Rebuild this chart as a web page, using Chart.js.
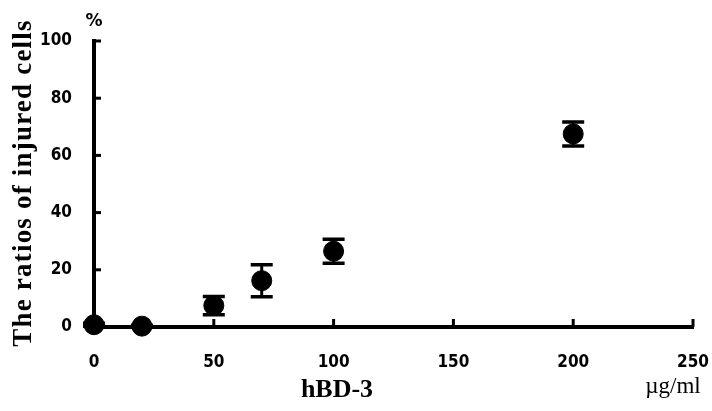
<!DOCTYPE html>
<html>
<head>
<meta charset="utf-8">
<script src="https://cdn.jsdelivr.net/npm/chart.js@4.4.0/dist/chart.umd.min.js"></script>
<style>
  html, body { margin: 0; padding: 0; background: #fff; }
  #wrap { position: relative; width: 712px; height: 411px; }
</style>
</head>
<body>
<div id="wrap"><canvas id="canvasG1" width="712" height="411"></canvas></div>
<script>
// data
var doseList = [0, 20, 50, 70, 100, 200];          // hBD-3, ug/ml
var ratioList = [0.8, 0.3, 7.5, 16.2, 26.5, 67.5]; // % injured cells
var errList = [0.5, 0.3, 3.2, 5.6, 4.2, 4.2];      // error bar (+/-)
var xTickList = [0, 50, 100, 150, 200, 250];
var yTickList = [0, 20, 40, 60, 80, 100];

var scatterData = [];
for (var i = 0; i < doseList.length; i++) {
  scatterData.push({ x: doseList[i], y: ratioList[i], e: errList[i] });
}

// error bars + inner axis ticks + free texts
var paperPlugin = {
  id: 'paper',
  beforeDatasetsDraw: function (chart) {
    var ctx = chart.ctx, xs = chart.scales.x, ys = chart.scales.y;
    ctx.save();
    ctx.strokeStyle = '#000';
    // ticks inside the axes
    ctx.lineWidth = 3;
    for (var i = 1; i < yTickList.length; i++) {
      var py = ys.getPixelForValue(yTickList[i]);
      ctx.beginPath(); ctx.moveTo(xs.left, py); ctx.lineTo(xs.left + 7, py); ctx.stroke();
    }
    for (var j = 1; j < xTickList.length; j++) {
      var px = xs.getPixelForValue(xTickList[j]);
      ctx.beginPath(); ctx.moveTo(px, ys.bottom); ctx.lineTo(px, ys.bottom - 8); ctx.stroke();
    }
    // error bars
    for (var k = 0; k < scatterData.length; k++) {
      var d = scatterData[k];
      var cx = xs.getPixelForValue(d.x);
      var top = ys.getPixelForValue(d.y + d.e);
      var bot = ys.getPixelForValue(d.y - d.e);
      ctx.lineWidth = 3;
      ctx.beginPath(); ctx.moveTo(cx, top); ctx.lineTo(cx, bot); ctx.stroke();
      ctx.lineWidth = 3.5;
      ctx.beginPath();
      ctx.moveTo(cx - 11, top); ctx.lineTo(cx + 11, top);
      ctx.moveTo(cx - 11, bot); ctx.lineTo(cx + 11, bot);
      ctx.stroke();
    }
    ctx.restore();
  },
  afterDraw: function (chart) {
    var ctx = chart.ctx;
    ctx.save();
    ctx.fillStyle = '#000';
    ctx.textAlign = 'center';
    ctx.textBaseline = 'middle';
    ctx.font = 'bold 17px "DejaVu Sans"';
    ctx.fillText('%', 94, 22);
    ctx.font = 'bold 26px "Liberation Serif"';
    ctx.fillText('hBD-3', 337, 390);
    ctx.font = '23px "Liberation Serif"';
    ctx.fillText('\u00b5g/ml', 673, 387);
    ctx.translate(24, 183);
    ctx.rotate(-Math.PI / 2);
    ctx.font = 'bold 27px "Liberation Serif"';
    ctx.letterSpacing = '1.2px';
    ctx.fillText('The ratios of injured cells', 0, 0);
    ctx.restore();
  }
};

var tickFont = { family: '"DejaVu Sans Condensed"', size: 17, weight: 'bold' };

var ctxG1 = document.getElementById('canvasG1').getContext('2d');
window.myChartG1 = new Chart(ctxG1, {
  type: 'scatter',
  data: {
    datasets: [{
      label: 'hBD-3',
      data: scatterData,
      backgroundColor: '#000',
      borderColor: '#000',
      pointRadius: 10,
      pointHoverRadius: 10,
      clip: false
    }]
  },
  options: {
    responsive: false,
    animation: false,
    events: [],
    layout: { padding: { top: 41, right: 19, left: 0, bottom: 0 } },
    plugins: { legend: { display: false }, tooltip: { enabled: false } },
    scales: {
      x: {
        type: 'linear', min: 0, max: 250,
        afterBuildTicks: function (s) { s.ticks = xTickList.map(function (v) { return { value: v }; }); },
        afterFit: function (s) { s.height = 84; s.paddingLeft = 0; s.paddingRight = 0; },
        grid: { display: false, drawTicks: false },
        border: { display: true, width: 4, color: '#000' },
        ticks: { color: '#000', font: tickFont, padding: 25, maxRotation: 0, autoSkip: false }
      },
      y: {
        type: 'linear', min: 0, max: 100,
        afterBuildTicks: function (s) { s.ticks = yTickList.map(function (v) { return { value: v }; }); },
        afterFit: function (s) { s.width = 94; s.paddingTop = 0; s.paddingBottom = 0; },
        grid: { display: false, drawTicks: false },
        border: { display: true, width: 4, color: '#000' },
        ticks: { color: '#000', font: tickFont, padding: 22 }
      }
    }
  },
  plugins: [paperPlugin]
});
</script>
</body>
</html>
